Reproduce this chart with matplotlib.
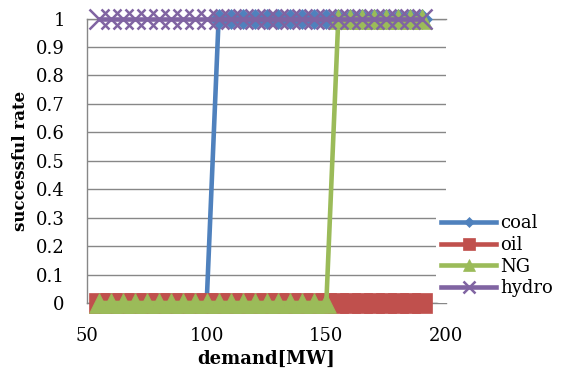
import matplotlib
matplotlib.use("Agg")
import matplotlib.pyplot as plt
import numpy as np

plt.rcParams['font.family'] = ['DejaVu Serif']

demand = [55, 60, 65, 70, 75, 80, 85, 90, 95, 100, 105, 110, 115, 120, 125,
          130, 135, 140, 145, 150, 155, 160, 165, 170, 175, 180, 185, 190]
coal = [0, 0, 0, 0, 0, 0, 0, 0, 0, 0, 1, 1, 1, 1, 1,
        1, 1, 1, 1, 1, 1, 1, 1, 1, 1, 1, 1, 1]
oil = [0, 0, 0, 0, 0, 0, 0, 0, 0, 0, 0, 0, 0, 0, 0,
       0, 0, 0, 0, 0, 0, 0, 0, 0, 0, 0, 0, 0]
ng = [0, 0, 0, 0, 0, 0, 0, 0, 0, 0, 0, 0, 0, 0, 0,
      0, 0, 0, 0, 0, 1, 1, 1, 1, 1, 1, 1, 1]
hydro = [1, 1, 1, 1, 1, 1, 1, 1, 1, 1, 1, 1, 1, 1, 1,
         1, 1, 1, 1, 1, 1, 1, 1, 1, 1, 1, 1, 1]

names = ['coal', 'oil', 'NG', 'hydro']
colors = ['#4F81BD', '#C0504D', '#9BBB59', '#8064A2']
markers = ['D', 's', '^', 'x']

fig = plt.figure(figsize=(5.63, 3.70), dpi=100)
ax = fig.add_axes([87/563, 1 - 303/370, (446-87)/563, (303-18.5)/370])

series = [coal, oil, ng, hydro]
msizes = [10, 15, 15, 15]
for vals, name, c, m, ms in zip(series, names, colors, markers, msizes):
    ax.plot(demand, vals, color=c, lw=3.3, marker=m, ms=ms,
            markeredgecolor=c, markerfacecolor=c,
            markeredgewidth=1.8 if m == 'x' else 0.5,
            label=name, clip_on=False, zorder=3)

ax.set_xlim(50, 200)
ax.set_ylim(0, 1)
ax.set_xticks([50, 100, 150, 200])
yt = np.round(np.arange(0, 1.01, 0.1), 1)
ax.set_yticks(yt)
ax.set_yticklabels(['0' if v == 0 else ('1' if v == 1 else f'{v:.1f}') for v in yt])
ax.tick_params(axis='both', length=0, labelsize=13)
ax.tick_params(axis='x', pad=17)
ax.tick_params(axis='y', pad=16)

ax.grid(axis='y', color='#878787', lw=1.0)
ax.set_axisbelow(True)
ax.spines['right'].set_visible(False)
for s in ['left', 'top', 'bottom']:
    ax.spines[s].set_color('#878787')
    ax.spines[s].set_linewidth(1.0)

ax.set_xlabel('demand[MW]', fontsize=13, fontweight='bold', labelpad=4)
ax.set_ylabel('successful rate', fontsize=12, fontweight='bold', labelpad=5)

leg = ax.legend(loc='upper left', bbox_to_anchor=(436/563, 1 - 209/370),
                bbox_transform=fig.transFigure, fontsize=13, frameon=True,
                facecolor='white', edgecolor='none', framealpha=1,
                markerscale=0.55, handlelength=3.0, handletextpad=0.25,
                labelspacing=0.2, borderpad=0.3, borderaxespad=0)
leg.get_frame().set_linewidth(0)
leg.set_zorder(5)

fig.savefig('out.png', dpi=100)
